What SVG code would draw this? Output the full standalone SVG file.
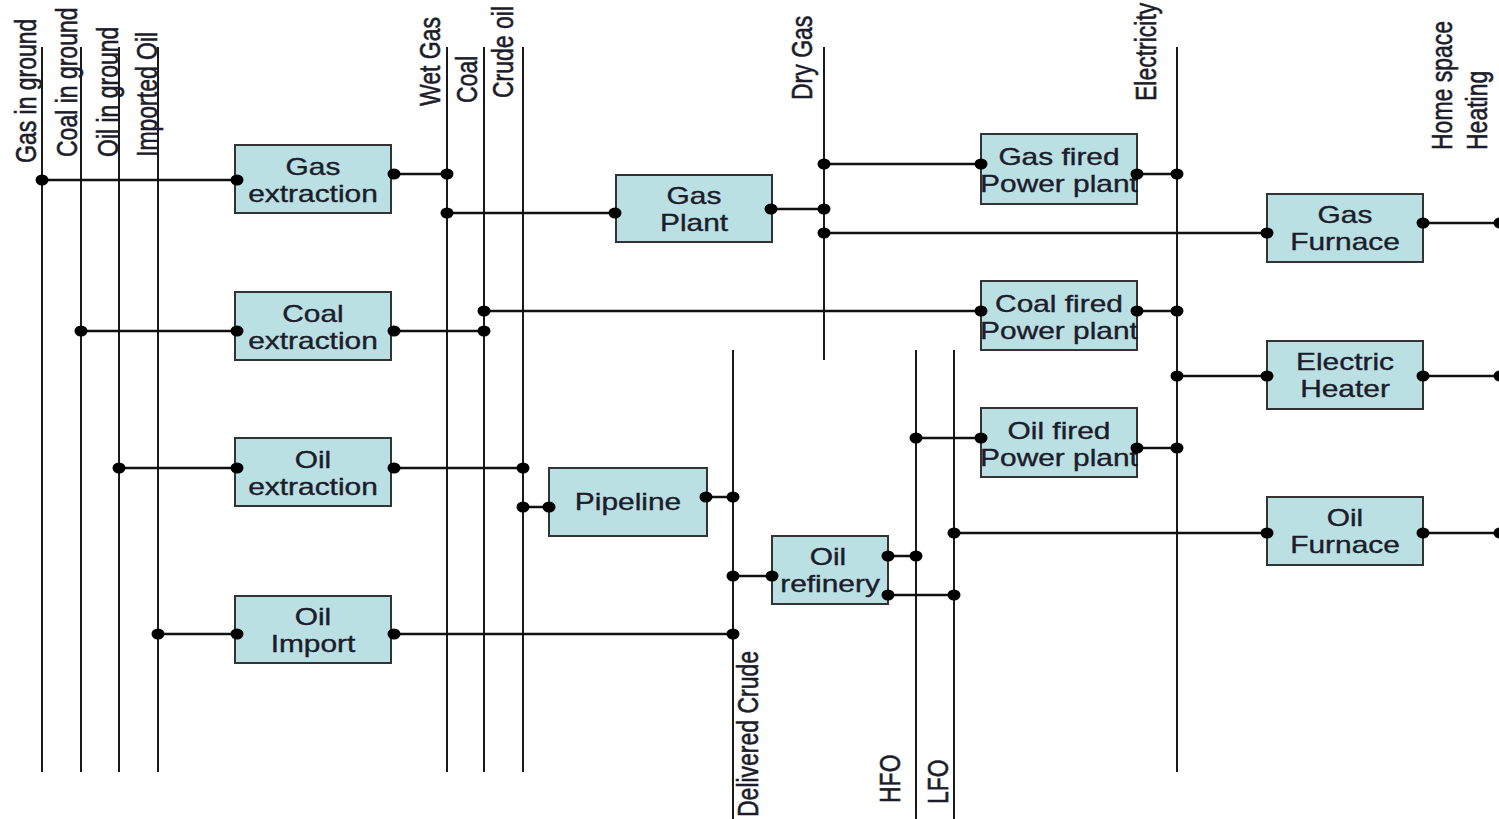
<svg xmlns="http://www.w3.org/2000/svg" width="1499" height="819" viewBox="0 0 1499 819">
  <style>
    .bus { stroke: #1a1a1a; stroke-width: 2; fill: none; }
    .wire { stroke: #111; stroke-width: 2.5; fill: none; }
    .box { fill: #bae0e4; stroke: #333; stroke-width: 2; }
    .lbl { font-family: "Liberation Sans", Arial, sans-serif; font-size: 23px; fill: #1c1c2a; stroke: #1c1c2a; stroke-width: 0.45; }
    .cap { font-family: "Liberation Sans", Arial, sans-serif; font-size: 23px; fill: #1c1c2a; stroke: #1c1c2a; stroke-width: 0.35; text-anchor: middle; }
    .dot { fill: #000; }
  </style>
  <defs>
    <ellipse id="pin" class="dot" cx="0" cy="0" rx="6.5" ry="5.5"/>
  </defs>
  <rect width="1499" height="819" fill="#fff"/>

  <!-- commodity buses (vertical lines with rotated names) -->
  <g id="bus-gas-in-ground"><line class="bus" x1="42" y1="47" x2="42" y2="772"/><text class="lbl" transform="translate(35.5,163) rotate(-90) scale(1,1.3)">Gas in ground</text></g>
  <g id="bus-coal-in-ground"><line class="bus" x1="81" y1="47" x2="81" y2="772"/><text class="lbl" transform="translate(76.5,157) rotate(-90) scale(1,1.3)">Coal in ground</text></g>
  <g id="bus-oil-in-ground"><line class="bus" x1="119" y1="47" x2="119" y2="772"/><text class="lbl" transform="translate(117.5,157) rotate(-90) scale(1,1.3)">Oil in ground</text></g>
  <g id="bus-imported-oil"><line class="bus" x1="158" y1="47" x2="158" y2="772"/><text class="lbl" transform="translate(156.5,157) rotate(-90) scale(1,1.3)">Imported Oil</text></g>
  <g id="bus-wet-gas"><line class="bus" x1="447" y1="47" x2="447" y2="772"/><text class="lbl" transform="translate(440,106) rotate(-90) scale(1,1.3)">Wet Gas</text></g>
  <g id="bus-coal"><line class="bus" x1="484" y1="47" x2="484" y2="772"/><text class="lbl" transform="translate(476.5,103) rotate(-90) scale(1,1.3)">Coal</text></g>
  <g id="bus-crude-oil"><line class="bus" x1="523" y1="47" x2="523" y2="772"/><text class="lbl" transform="translate(513,98) rotate(-90) scale(1,1.3)">Crude oil</text></g>
  <g id="bus-dry-gas"><line class="bus" x1="824" y1="47" x2="824" y2="360"/><text class="lbl" transform="translate(812,100) rotate(-90) scale(1,1.3)">Dry Gas</text></g>
  <g id="bus-electricity"><line class="bus" x1="1177" y1="47" x2="1177" y2="772"/><text class="lbl" transform="translate(1156,101) rotate(-90) scale(1,1.3)">Electricity</text></g>
  <g id="bus-home-heating"><text class="lbl" transform="translate(1452,150) rotate(-90) scale(1,1.3)">Home space</text><text class="lbl" transform="translate(1487,150) rotate(-90) scale(1,1.3)">Heating</text></g>
  <g id="bus-delivered-crude"><line class="bus" x1="733" y1="350" x2="733" y2="819"/><text class="lbl" transform="translate(758,817) rotate(-90) scale(1,1.3)">Delivered Crude</text></g>
  <g id="bus-hfo"><line class="bus" x1="916" y1="350" x2="916" y2="819"/><text class="lbl" transform="translate(900,803) rotate(-90) scale(1,1.3)">HFO</text></g>
  <g id="bus-lfo"><line class="bus" x1="954" y1="350" x2="954" y2="819"/><text class="lbl" transform="translate(948,804) rotate(-90) scale(1,1.3)">LFO</text></g>

  <!-- process boxes -->
  <g id="gas-extraction"><rect class="box" x="235" y="145" width="156" height="68"/><text class="cap" transform="translate(313,175) scale(1.3,1)">Gas</text><text class="cap" transform="translate(313,202) scale(1.3,1)">extraction</text></g>
  <g id="coal-extraction"><rect class="box" x="235" y="292" width="156" height="68"/><text class="cap" transform="translate(313,322) scale(1.3,1)">Coal</text><text class="cap" transform="translate(313,349) scale(1.3,1)">extraction</text></g>
  <g id="oil-extraction"><rect class="box" x="235" y="438" width="156" height="68"/><text class="cap" transform="translate(313,468) scale(1.3,1)">Oil</text><text class="cap" transform="translate(313,495) scale(1.3,1)">extraction</text></g>
  <g id="oil-import"><rect class="box" x="235" y="596" width="156" height="67"/><text class="cap" transform="translate(313,625) scale(1.3,1)">Oil</text><text class="cap" transform="translate(313,652) scale(1.3,1)">Import</text></g>
  <g id="gas-plant"><rect class="box" x="616" y="175" width="156" height="67"/><text class="cap" transform="translate(694,204) scale(1.3,1)">Gas</text><text class="cap" transform="translate(694,231) scale(1.3,1)">Plant</text></g>
  <g id="pipeline"><rect class="box" x="549" y="468" width="158" height="68"/><text class="cap" transform="translate(628,510) scale(1.3,1)">Pipeline</text></g>
  <g id="oil-refinery"><rect class="box" x="772" y="536" width="116" height="68"/><text class="cap" transform="translate(828,565) scale(1.3,1)">Oil</text><text class="cap" transform="translate(830,592) scale(1.3,1)">refinery</text></g>
  <g id="gas-fired-power-plant"><rect class="box" x="981" y="134" width="156" height="70"/><text class="cap" transform="translate(1059,165) scale(1.3,1)">Gas fired</text><text class="cap" transform="translate(1059,192) scale(1.3,1)">Power plant</text></g>
  <g id="coal-fired-power-plant"><rect class="box" x="981" y="281" width="156" height="69"/><text class="cap" transform="translate(1059,312) scale(1.3,1)">Coal fired</text><text class="cap" transform="translate(1059,339) scale(1.3,1)">Power plant</text></g>
  <g id="oil-fired-power-plant"><rect class="box" x="981" y="408" width="156" height="69"/><text class="cap" transform="translate(1059,439) scale(1.3,1)">Oil fired</text><text class="cap" transform="translate(1059,466) scale(1.3,1)">Power plant</text></g>
  <g id="gas-furnace"><rect class="box" x="1267" y="194" width="156" height="68"/><text class="cap" transform="translate(1345,223) scale(1.3,1)">Gas</text><text class="cap" transform="translate(1345,250) scale(1.3,1)">Furnace</text></g>
  <g id="electric-heater"><rect class="box" x="1267" y="341" width="156" height="68"/><text class="cap" transform="translate(1345,370) scale(1.3,1)">Electric</text><text class="cap" transform="translate(1345,397) scale(1.3,1)">Heater</text></g>
  <g id="oil-furnace"><rect class="box" x="1267" y="497" width="156" height="68"/><text class="cap" transform="translate(1345,526) scale(1.3,1)">Oil</text><text class="cap" transform="translate(1345,553) scale(1.3,1)">Furnace</text></g>

  <!-- connectors: horizontal flows with pins at both ends -->
  <g id="connectors">
    <path class="wire" d="M42 180H237 M394 174H447 M447 213H615 M771 209H824 M824 164H981 M824 233H1267 M1137 174H1177 M1423 223H1499
                          M484 311H981 M81 331H237 M394 331H484 M1137 311H1177 M1177 376H1267 M1423 376H1499
                          M916 438H981 M1137 448H1177 M119 468H237 M394 468H523 M523 507H549 M706 497H733
                          M954 533H1267 M1423 533H1499 M733 576H772 M888 556H916 M888 595H954 M158 634H237 M394 634H733"/>
    <use href="#pin" x="42" y="180"/><use href="#pin" x="237" y="180"/>
    <use href="#pin" x="394" y="174"/><use href="#pin" x="447" y="174"/>
    <use href="#pin" x="447" y="213"/><use href="#pin" x="615" y="213"/>
    <use href="#pin" x="771" y="209"/><use href="#pin" x="824" y="209"/>
    <use href="#pin" x="824" y="164"/><use href="#pin" x="981" y="164"/>
    <use href="#pin" x="824" y="233"/><use href="#pin" x="1267" y="233"/>
    <use href="#pin" x="1137" y="174"/><use href="#pin" x="1177" y="174"/>
    <use href="#pin" x="1423" y="223"/><use href="#pin" x="1500" y="223"/>
    <use href="#pin" x="484" y="311"/><use href="#pin" x="981" y="311"/>
    <use href="#pin" x="81" y="331"/><use href="#pin" x="237" y="331"/>
    <use href="#pin" x="394" y="331"/><use href="#pin" x="484" y="331"/>
    <use href="#pin" x="1137" y="311"/><use href="#pin" x="1177" y="311"/>
    <use href="#pin" x="1177" y="376"/><use href="#pin" x="1267" y="376"/>
    <use href="#pin" x="1423" y="376"/><use href="#pin" x="1500" y="376"/>
    <use href="#pin" x="916" y="438"/><use href="#pin" x="981" y="438"/>
    <use href="#pin" x="1137" y="448"/><use href="#pin" x="1177" y="448"/>
    <use href="#pin" x="119" y="468"/><use href="#pin" x="237" y="468"/>
    <use href="#pin" x="394" y="468"/><use href="#pin" x="523" y="468"/>
    <use href="#pin" x="523" y="507"/><use href="#pin" x="549" y="507"/>
    <use href="#pin" x="706" y="497"/><use href="#pin" x="733" y="497"/>
    <use href="#pin" x="954" y="533"/><use href="#pin" x="1267" y="533"/>
    <use href="#pin" x="1423" y="533"/><use href="#pin" x="1500" y="533"/>
    <use href="#pin" x="733" y="576"/><use href="#pin" x="772" y="576"/>
    <use href="#pin" x="888" y="556"/><use href="#pin" x="916" y="556"/>
    <use href="#pin" x="888" y="595"/><use href="#pin" x="954" y="595"/>
    <use href="#pin" x="158" y="634"/><use href="#pin" x="237" y="634"/>
    <use href="#pin" x="394" y="634"/><use href="#pin" x="733" y="634"/>
  </g>
</svg>
